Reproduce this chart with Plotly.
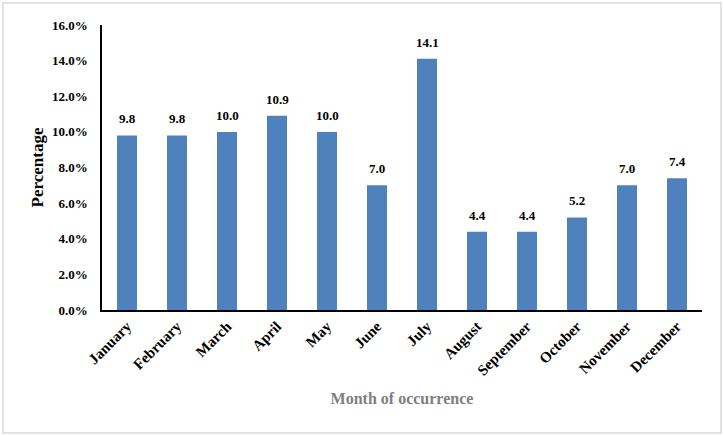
import plotly.graph_objects as go

months = ["January", "February", "March", "April", "May", "June", "July",
          "August", "September", "October", "November", "December"]
percentages = [9.8, 9.8, 10.0, 10.9, 10.0, 7.0, 14.1, 4.4, 4.4, 5.2, 7.0, 7.4]
y_ticks = [0, 2, 4, 6, 8, 10, 12, 14, 16]
y_tick_labels = ["0.0%", "2.0%", "4.0%", "6.0%", "8.0%", "10.0%", "12.0%", "14.0%", "16.0%"]

FONT = "Liberation Serif, Times New Roman, serif"

fig = go.Figure(go.Bar(
    x=months, y=percentages,
    marker=dict(color="#4f81bd", line=dict(width=0)),
    hoverinfo="skip",
))

for m, v in zip(months, percentages):
    fig.add_annotation(x=m, y=v, text=f"{v:.1f}", showarrow=False,
                       yanchor="bottom", yshift=7,
                       font=dict(family=FONT, size=13, color="black", weight="bold"))

fig.update_layout(
    width=724, height=436,
    margin=dict(l=102, r=22, t=25, b=126),
    paper_bgcolor="white", plot_bgcolor="white",
    bargap=0.6, showlegend=False,
    font=dict(family=FONT, color="black"),
    shapes=[dict(type="rect", xref="paper", yref="paper",
                 x0=-99/600, x1=1 + 19/600, y0=-123/285, y1=1 + 22/285,
                 line=dict(color="#d9d9d9", width=1.5), fillcolor="rgba(0,0,0,0)", layer="below")],
)

fig.update_yaxes(
    range=[0, 16], tickmode="array", tickvals=y_ticks, ticktext=y_tick_labels,
    showgrid=False, zeroline=False, showline=True, linecolor="black", linewidth=1.5,
    ticks="", ticklabelstandoff=10,
    tickfont=dict(family=FONT, size=13, color="black", weight="bold"),
    title=dict(text="Percentage", font=dict(family=FONT, size=17, color="black", weight="bold"), standoff=4),
)
fig.update_xaxes(
    showgrid=False, showline=True, linecolor="black", linewidth=1.5, ticks="",
    tickangle=-45,
    tickfont=dict(family=FONT, size=15, color="black", weight="bold"),
    title=dict(text="Month of occurrence", font=dict(family=FONT, size=16, color="#7f7f7f", weight="bold"), standoff=15),
)

fig.write_html("out.html", config={"displayModeBar": False},
               post_script="document.body.style.margin='0';")
